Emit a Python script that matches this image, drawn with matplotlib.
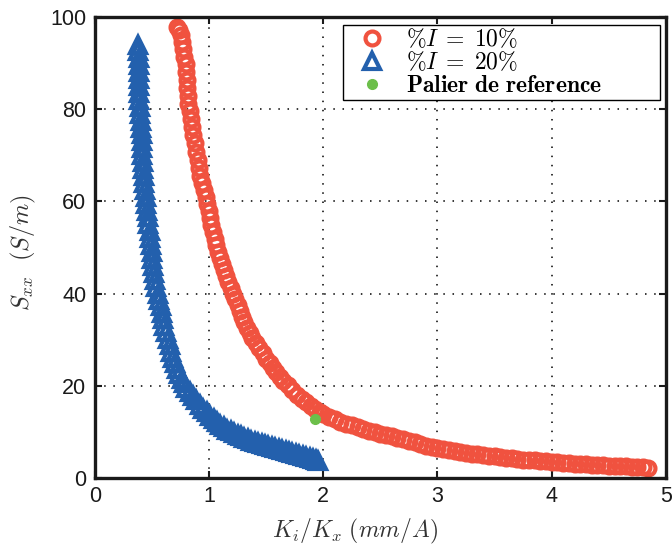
import matplotlib.pyplot as plt

plt.rcParams['mathtext.fontset'] = 'cm'

# %I = 10%
x_10 = [0.72, 0.74, 0.755, 0.765, 0.775, 0.785, 0.795, 0.80, 0.805, 0.81,
        0.815, 0.82, 0.83, 0.84, 0.85, 0.86, 0.875, 0.89, 0.90, 0.91,
        0.925, 0.94, 0.955, 0.97, 0.985, 1.00, 1.01, 1.02, 1.035, 1.05,
        1.065, 1.08, 1.095, 1.11, 1.13, 1.15, 1.17, 1.19, 1.21, 1.23,
        1.25, 1.27, 1.29, 1.31, 1.335, 1.36, 1.38, 1.41, 1.44, 1.47,
        1.50, 1.53, 1.56, 1.59, 1.62, 1.65, 1.69, 1.73, 1.77, 1.81,
        1.85, 1.89, 1.93, 1.97, 2.00, 2.05, 2.10, 2.15, 2.20, 2.25,
        2.30, 2.35, 2.40, 2.45, 2.50, 2.55, 2.60, 2.65, 2.70, 2.75,
        2.80, 2.85, 2.90, 2.95, 3.00, 3.05, 3.10, 3.15, 3.20, 3.25,
        3.30, 3.35, 3.40, 3.45, 3.50, 3.55, 3.60, 3.65, 3.70, 3.75,
        3.80, 3.85, 3.90, 3.95, 4.00, 4.05, 4.10, 4.15, 4.20, 4.25,
        4.30, 4.35, 4.40, 4.45, 4.50, 4.55, 4.60, 4.65, 4.70, 4.75,
        4.80, 4.84]
y_10 = [97.8, 97.2, 96.0, 94.5, 93.0, 91.4, 89.7, 88.0, 86.3, 84.6,
        82.9, 81.2, 79.5, 77.8, 76.1, 74.4, 72.6, 70.8, 69.0, 67.3,
        65.6, 64.0, 62.4, 60.9, 59.4, 57.9, 56.3, 54.8, 53.3, 51.9,
        50.5, 49.1, 47.8, 46.5, 45.2, 43.9, 42.6, 41.3, 40.0, 38.8,
        37.5, 36.2, 34.9, 33.8, 32.6, 31.4, 30.3, 29.2, 28.1, 27.0,
        25.9, 24.9, 23.9, 22.9, 22.0, 21.1, 20.1, 19.0, 18.1, 17.2,
        16.4, 15.6, 14.9, 14.3, 13.9, 13.3, 12.7, 12.2, 11.8, 11.4,
        11.0, 10.6, 10.2, 9.9, 9.6, 9.3, 9.0, 8.7, 8.4, 8.1,
        7.7, 7.4, 7.0, 6.7, 6.5, 6.3, 6.1, 5.9, 5.6, 5.4,
        5.2, 5.1, 5.0, 4.8, 4.7, 4.6, 4.4, 4.3, 4.1, 4.0,
        3.9, 3.8, 3.7, 3.6, 3.5, 3.4, 3.3, 3.2, 3.1, 3.05,
        3.0, 2.9, 2.85, 2.8, 2.7, 2.65, 2.6, 2.5, 2.45, 2.35,
        2.3, 2.2]

# %I = 20%
x_20 = [0.377, 0.38, 0.383, 0.385, 0.386, 0.387, 0.388, 0.389, 0.39, 0.395,
        0.40, 0.403, 0.406, 0.41, 0.412, 0.415, 0.417, 0.42, 0.425, 0.43,
        0.435, 0.44, 0.445, 0.45, 0.46, 0.465, 0.47, 0.48, 0.485, 0.49,
        0.50, 0.505, 0.51, 0.52, 0.53, 0.54, 0.55, 0.565, 0.58, 0.59,
        0.60, 0.61, 0.625, 0.64, 0.655, 0.67, 0.685, 0.70, 0.72, 0.74,
        0.76, 0.78, 0.80, 0.83, 0.86, 0.89, 0.92, 0.95, 0.98, 1.01,
        1.04, 1.07, 1.10, 1.13, 1.16, 1.19, 1.22, 1.25, 1.28, 1.31,
        1.34, 1.37, 1.40, 1.43, 1.46, 1.49, 1.52, 1.55, 1.58, 1.61,
        1.64, 1.67, 1.70, 1.73, 1.76, 1.79, 1.82, 1.85, 1.88, 1.91,
        1.94, 1.95]
y_20 = [94.0, 92.5, 91.0, 89.5, 88.0, 86.5, 85.0, 83.5, 82.0, 80.5,
        79.0, 77.5, 76.0, 74.5, 73.0, 71.5, 70.0, 68.5, 67.0, 65.5,
        64.0, 62.5, 61.0, 59.5, 58.0, 56.5, 55.0, 53.5, 52.0, 50.5,
        49.0, 47.5, 46.0, 44.5, 43.0, 41.5, 40.0, 38.6, 37.2, 35.8,
        34.4, 33.0, 31.6, 30.2, 28.8, 27.4, 26.1, 24.9, 23.7, 22.6,
        21.5, 20.5, 19.6, 18.7, 17.8, 16.9, 15.9, 15.0, 14.2, 13.5,
        12.8, 12.1, 11.5, 11.0, 10.5, 10.1, 9.7, 9.3, 9.0, 8.7,
        8.4, 8.1, 7.9, 7.6, 7.4, 7.2, 7.0, 6.7, 6.5, 6.2,
        6.0, 5.8, 5.6, 5.4, 5.2, 5.0, 4.8, 4.6, 4.4, 4.2,
        4.0, 3.6]

# palier de reference
x_ref = [1.93]
y_ref = [12.8]

red = '#f0523f'
blue = '#2360ad'
green = '#6cbf4a'

fig, ax = plt.subplots(figsize=(6.72, 5.45), dpi=100)
fig.subplots_adjust(left=0.141, right=0.991, top=0.969, bottom=0.123)

ax.plot(x_10, y_10, 'o', ms=10, mfc='none', mec=red, mew=3.0,
        label=r'$\%I\;=\;10\%$')
ax.plot(x_20, y_20, '^', ms=11, mfc='none', mec=blue, mew=3.0,
        label=r'$\%I\;=\;20\%$')
ax.plot(x_ref, y_ref, 'o', ms=7, color=green, mec=green,
        label=r'$\mathbf{Palier\ de\ reference}$')

ax.set_xlim(0, 5)
ax.set_ylim(0, 100)
ax.set_xticks([0, 1, 2, 3, 4, 5])
ax.set_yticks([0, 20, 40, 60, 80, 100])
ax.grid(True, color='black', linestyle=(0, (1, 5)), linewidth=1.1)

for s in ax.spines.values():
    s.set_linewidth(2.4)
    s.set_color('#1a1a1a')
ax.tick_params(direction='in', length=5, width=1.5, top=True, right=True,
               labelsize=15.5, pad=6, colors='#1a1a1a')
for lab in ax.get_xticklabels() + ax.get_yticklabels():
    lab.set_family('Liberation Sans')

ax.set_xlabel(r'$K_i/K_x\ (mm/A)$', fontsize=17, color='#333333')
ax.set_ylabel(r'$S_{xx}\ \ (S/m)$', fontsize=17.5, color='#333333')
ax.xaxis.set_label_coords(0.455, -0.085)
ax.yaxis.set_label_coords(-0.1, 0.49)

leg = ax.legend(loc='upper right', bbox_to_anchor=(0.434, 0.0, 0.555, 0.983),
                mode='expand', fontsize=17, frameon=True, fancybox=False,
                edgecolor='black', framealpha=1, borderpad=0.1,
                labelspacing=-0.04, handletextpad=0.3, borderaxespad=0,
                handlelength=2.3)
leg.get_frame().set_linewidth(1.0)

plt.savefig('out.png', dpi=100)
